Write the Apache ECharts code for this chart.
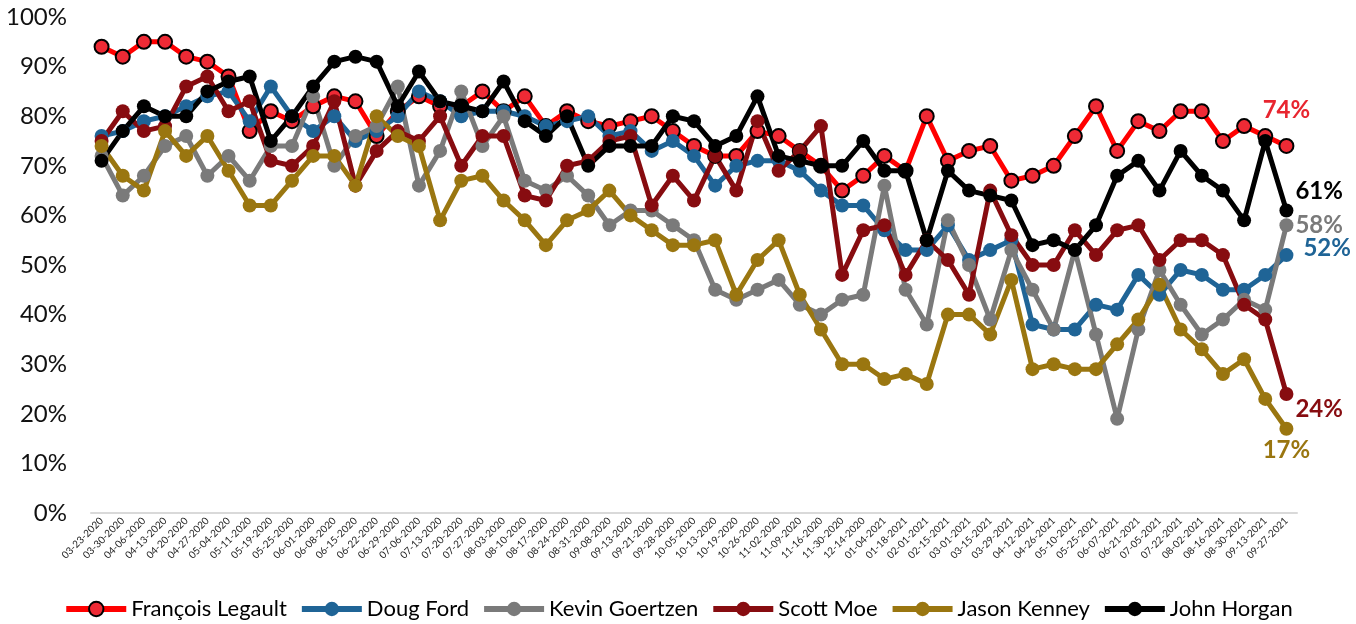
<!DOCTYPE html>
<html>
<head>
<meta charset="utf-8">
<script src="https://cdn.jsdelivr.net/npm/echarts@6/dist/echarts.min.js"></script>
<style>
html,body{margin:0;padding:0;background:#fff;}
#chart{width:1356px;height:624px;}
</style>
</head>
<body>
<div id="chart"></div>
<script>
var categories = ["03-23-2020","03-30-2020","04-06-2020","04-13-2020","04-20-2020","04-27-2020","05-04-2020","05-11-2020","05-19-2020","05-25-2020","06-01-2020","06-08-2020","06-15-2020","06-22-2020","06-29-2020","07-06-2020","07-13-2020","07-20-2020","07-27-2020","08-03-2020","08-10-2020","08-17-2020","08-24-2020","08-31-2020","09-08-2020","09-13-2020","09-21-2020","09-28-2020","10-05-2020","10-13-2020","10-19-2020","10-26-2020","11-02-2020","11-09-2020","11-16-2020","11-30-2020","12-14-2020","01-04-2021","01-18-2021","02-01-2021","02-15-2021","03-01-2021","03-15-2021","03-29-2021","04-12-2021","04-26-2021","05-10-2021","05-25-2021","06-07-2021","06-21-2021","07-05-2021","07-22-2021","08-02-2021","08-16-2021","08-30-2021","09-13-2021","09-27-2021"];

var legault  = [94,92,95,95,92,91,88,77,81,79,82,84,83,76,81,84,82,82,85,81,84,78,81,79,78,79,80,77,74,72,72,77,76,73,70,65,68,72,69,80,71,73,74,67,68,70,76,82,73,79,77,81,81,75,78,76,74];
var ford     = [76,77,79,80,82,84,85,79,86,80,77,80,75,77,80,85,83,80,81,81,80,78,79,80,76,77,73,75,72,66,70,71,71,69,65,62,62,57,53,53,58,51,53,55,38,37,37,42,41,48,44,49,48,45,45,48,52];
var goertzen = [72,64,68,74,76,68,72,67,74,74,84,70,76,78,86,66,73,85,74,80,67,65,68,64,58,61,61,58,55,45,43,45,47,42,40,43,44,66,45,38,59,50,39,53,45,37,53,36,19,37,49,42,36,39,43,41,58];
var moe      = [75,81,77,78,86,88,81,83,71,70,74,83,66,73,77,75,80,70,76,76,64,63,70,71,75,76,62,68,63,72,65,79,69,73,78,48,57,58,48,55,51,44,65,56,50,50,57,52,57,58,51,55,55,52,42,39,24];
var kenney   = [74,68,65,77,72,76,69,62,62,67,72,72,66,80,76,74,59,67,68,63,59,54,59,61,65,60,57,54,54,55,44,51,55,44,37,30,30,27,28,26,40,40,36,47,29,30,29,29,34,39,46,37,33,28,31,23,17];
var horgan   = [71,77,82,80,80,85,87,88,75,80,86,91,92,91,82,89,83,82,81,87,79,76,80,70,74,74,74,80,79,74,76,84,72,71,70,70,75,69,69,55,69,65,64,63,54,55,53,58,68,71,65,73,68,65,59,75,61];

var yTicks = [0,10,20,30,40,50,60,70,80,90,100];

var FONT = 'Lato, "Open Sans", sans-serif';

function withEndLabel(arr, color, pos, offset, distance) {
  return arr.map(function (v, i) {
    if (i !== arr.length - 1) return v;
    return {
      value: v,
      label: {
        show: true,
        position: pos,
        distance: distance,
        offset: offset,
        formatter: '{c}%',
        color: color,
        fontFamily: FONT,
        fontWeight: 'bold',
        fontSize: 24
      }
    };
  });
}

function mkSeries(name, data, lineColor, dotColor, border, lab) {
  return {
    name: name,
    type: 'line',
    data: withEndLabel(data, lab.color, lab.pos, lab.offset, lab.distance),
    symbol: 'circle',
    symbolSize: 14,
    showAllSymbol: true,
    lineStyle: {color: lineColor, width: 5},
    itemStyle: {color: dotColor, borderColor: border ? '#000' : dotColor, borderWidth: border ? 2 : 0},
    emphasis: {disabled: true},
    animation: false
  };
}

var chart = echarts.init(document.getElementById('chart'));
chart.setOption({
  backgroundColor: '#fff',
  animation: false,
  grid: {left: 91, right: 59, top: 17, bottom: 111, containLabel: false},
  legend: {
    top: 593,
    left: 'center',
    itemWidth: 60,
    itemHeight: 18,
    itemGap: 12,
    lineStyle: {width: 6},
    textStyle: {fontFamily: FONT, fontSize: 22, color: '#000'},
    data: [
      {name: 'François Legault', itemStyle: {borderColor: '#000', borderWidth: 2}},
      {name: 'Doug Ford'},
      {name: 'Kevin Goertzen'},
      {name: 'Scott Moe'},
      {name: 'Jason Kenney'},
      {name: 'John Horgan'}
    ]
  },
  xAxis: {
    type: 'category',
    data: categories,
    boundaryGap: true,
    axisLine: {show: true, lineStyle: {color: '#d9d9d9', width: 2}},
    axisTick: {show: false},
    axisLabel: {interval: 0, rotate: 45, fontSize: 10, fontFamily: FONT, color: '#222', margin: 6}
  },
  yAxis: {
    type: 'value',
    min: yTicks[0],
    max: yTicks[yTicks.length - 1],
    interval: 10,
    axisLine: {show: false},
    axisTick: {show: false},
    splitLine: {show: false},
    axisLabel: {formatter: '{value}%', fontSize: 24, fontFamily: FONT, color: '#111', margin: 24}
  },
  series: [
    mkSeries('François Legault', legault, '#FF0000', '#EE2A35', true, {color: '#E8252F', pos: 'top', offset: [0, -2], distance: 14}),
    mkSeries('Doug Ford', ford, '#1F6496', '#1F6496', false, {color: '#1F6496', pos: 'right', offset: [8, -7], distance: 2}),
    mkSeries('Kevin Goertzen', goertzen, '#7A7A7A', '#7A7A7A', false, {color: '#7A7A7A', pos: 'right', offset: [0, 0], distance: 2}),
    mkSeries('Scott Moe', moe, '#870C10', '#870C10', false, {color: '#870C10', pos: 'right', offset: [0, 15], distance: 2}),
    mkSeries('Jason Kenney', kenney, '#9A7610', '#9A7610', false, {color: '#9A7610', pos: 'bottom', offset: [0, 1], distance: 2}),
    mkSeries('John Horgan', horgan, '#000000', '#000000', false, {color: '#000000', pos: 'right', offset: [0, -19], distance: 2})
  ]
});
</script>
</body>
</html>
